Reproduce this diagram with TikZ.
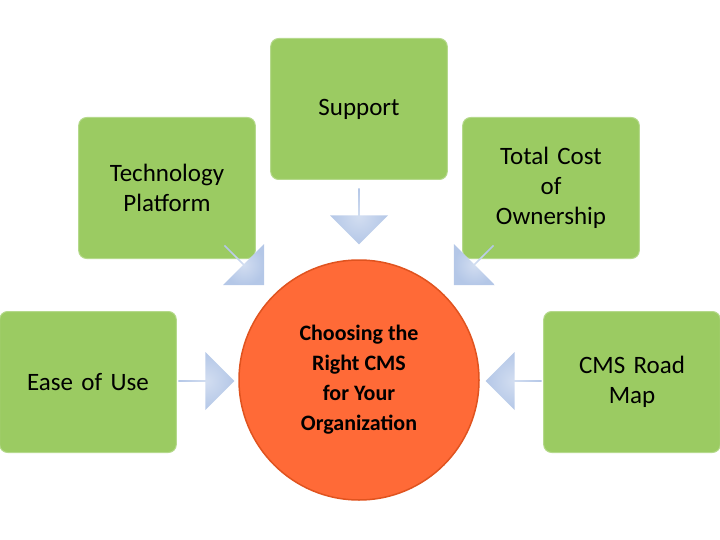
\documentclass[tikz,border=0pt]{standalone}
\usepackage{fontspec}
\setmainfont{Carlito}
\usetikzlibrary{shapes.arrows}
\definecolor{gfill}{HTML}{9BCB62}
\definecolor{gdraw}{HTML}{B5D98C}
\definecolor{ofill}{HTML}{FF6A37}
\definecolor{odraw}{HTML}{E0531F}
\definecolor{afill}{HTML}{B4C7E7}
\tikzset{
  box/.style={draw=gdraw,line width=1pt,fill=gfill,rounded corners=8pt,minimum width=176pt,minimum height=141pt,align=center,font=\fontsize{25}{30}\selectfont,text width=170pt},
  barrow/.style={single arrow,draw=none,inner color=afill!60,outer color=afill,single arrow head extend=7pt,minimum height=56pt,minimum width=58pt,single arrow tip angle=90,inner sep=0pt},
}
\begin{document}
\begin{tikzpicture}[x=1pt,y=-1pt]
\useasboundingbox (0,0) rectangle (720,540);
\node[box] (tech) at (167,188) {Technology\\Platform};
\node[box] (supp) at (359,109) {Support};
\node[box] (tco) at (551,188) {Total Cost\\of\\Ownership};
\node[box] (ease) at (88,382) {Ease of Use};
\node[box] (road) at (632,382) {CMS Road\\Map};
\node[circle,draw=odraw,line width=1.5pt,fill=ofill,minimum size=240pt,align=center,font=\bfseries\fontsize{22}{30}\selectfont] (c) at (359,380) {Choosing the\\Right CMS\\for Your\\Organization};
\node[barrow,rotate=-90] (a1) at (359,216) {};
\node[barrow,rotate=-45] (a2) at (244,265) {};
\node[barrow,rotate=-135] (a3) at (474,265) {};
\node[barrow] (a4) at (206,381) {};
\node[barrow,rotate=180] (a5) at (514,381) {};
\end{tikzpicture}
\end{document}
